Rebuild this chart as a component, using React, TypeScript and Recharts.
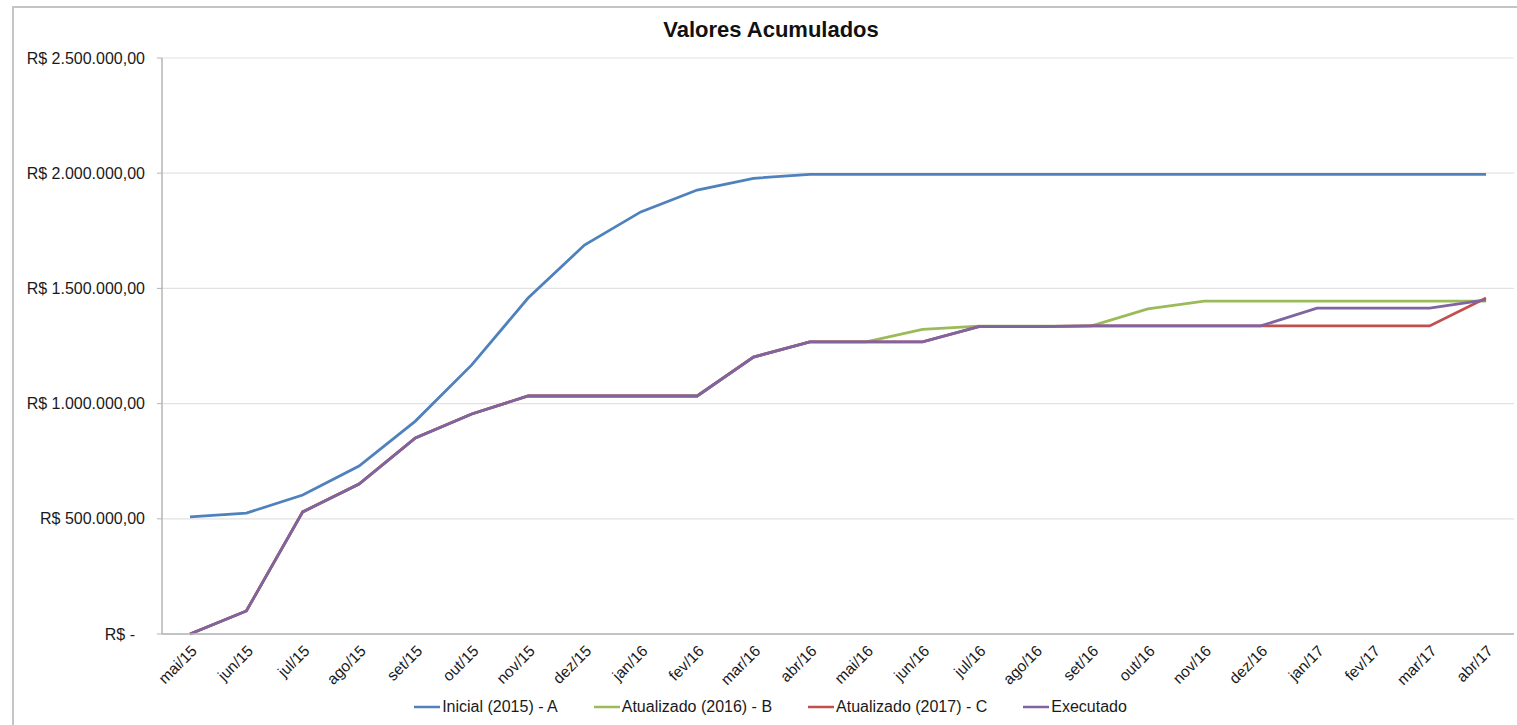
import React from 'react';
import { LineChart, Line, XAxis, YAxis, CartesianGrid, Legend } from 'recharts';

const months = [
  'mai/15', 'jun/15', 'jul/15', 'ago/15', 'set/15', 'out/15', 'nov/15', 'dez/15',
  'jan/16', 'fev/16', 'mar/16', 'abr/16', 'mai/16', 'jun/16', 'jul/16', 'ago/16',
  'set/16', 'out/16', 'nov/16', 'dez/16', 'jan/17', 'fev/17', 'mar/17', 'abr/17',
];

const inicialA = [
  508000, 525000, 603000, 729000, 924000, 1168000, 1458000, 1688000,
  1832000, 1927000, 1978000, 1995000, 1995000, 1995000, 1995000, 1995000,
  1995000, 1995000, 1995000, 1995000, 1995000, 1995000, 1995000, 1995000,
];

const atualizadoB = [
  0, 100000, 530000, 651000, 851000, 955000, 1033000, 1033000,
  1033000, 1033000, 1202000, 1268000, 1268000, 1322000, 1336000, 1336000,
  1337000, 1411000, 1445000, 1445000, 1445000, 1445000, 1445000, 1445000,
];

const atualizadoC = [
  0, 100000, 530000, 651000, 851000, 955000, 1033000, 1033000,
  1033000, 1033000, 1202000, 1268000, 1268000, 1268000, 1334000, 1334000,
  1337000, 1337000, 1337000, 1337000, 1337000, 1337000, 1337000, 1458000,
];

const executado = [
  0, 100000, 530000, 651000, 851000, 955000, 1033000, 1033000,
  1033000, 1033000, 1202000, 1268000, 1268000, 1268000, 1334000, 1334000,
  1337000, 1337000, 1337000, 1337000, 1414000, 1414000, 1414000, 1450000,
];

const yTicks = [0, 500000, 1000000, 1500000, 2000000, 2500000];

const seriesNames = ['Inicial (2015) - A', 'Atualizado (2016) - B', 'Atualizado (2017) - C', 'Executado'];
const seriesColors = ['#4F81BD', '#9BBB59', '#C0504D', '#8064A2'];

const data = months.map((m, i) => ({
  month: m,
  a: inicialA[i],
  b: atualizadoB[i],
  c: atualizadoC[i],
  e: executado[i],
}));

const FONT = "Arial, 'Liberation Sans', sans-serif";

function formatBRL(v: number): string {
  if (v === 0) return 'R$ -';
  const int = Math.floor(v).toString().replace(/\B(?=(\d{3})+(?!\d))/g, '.');
  return `R$ ${int},00`;
}

const YTick = (props: any) => {
  const { x, y, payload } = props;
  const v = payload.value as number;
  return (
    <text
      x={v === 0 ? x - 10 : x}
      y={y}
      dy="0.35em"
      textAnchor="end"
      fontSize={16}
      fontFamily={FONT}
      fill="#1a1a1a"
    >
      {formatBRL(v)}
    </text>
  );
};

const XTick = (props: any) => {
  const { x, y, payload } = props;
  return (
    <g transform={`translate(${x + 4},${y + 14})`}>
      <text
        x={0}
        y={0}
        dy="0.35em"
        textAnchor="end"
        transform="rotate(-45)"
        fontSize={15.5}
        fontFamily={FONT}
        fill="#1a1a1a"
      >
        {payload.value}
      </text>
    </g>
  );
};

const renderLegend = (props: any) => {
  const payload = [...(props.payload || [])].sort(
    (p: any, q: any) => seriesNames.indexOf(p.value) - seriesNames.indexOf(q.value)
  );
  return (
    <div
      style={{
        display: 'flex',
        justifyContent: 'center',
        alignItems: 'center',
        gap: 36,
        height: 20,
        fontFamily: FONT,
        fontSize: 16,
        color: '#1a1a1a',
      }}
    >
      {payload.map((entry: any, i: number) => (
        <div key={i} style={{ display: 'flex', alignItems: 'center' }}>
          <svg width={26} height={4} style={{ marginRight: 2 }}>
            <line x1={0} y1={2} x2={26} y2={2} stroke={entry.color} strokeWidth={2.5} />
          </svg>
          <span>{entry.value}</span>
        </div>
      ))}
    </div>
  );
};

export default function App() {
  return (
    <div
      style={{
        position: 'absolute',
        left: 0,
        top: 0,
        width: 1517,
        height: 725,
        overflow: 'hidden',
        background: '#ffffff',
      }}
    >
      <div
        style={{
          position: 'absolute',
          left: 12,
          top: 6,
          width: 1505,
          height: 760,
          borderTop: '2px solid #c4c4c4',
          borderLeft: '2px solid #c4c4c4',
          boxSizing: 'border-box',
        }}
      />
      <div
        style={{
          position: 'absolute',
          left: 0,
          top: 17,
          width: 1542,
          textAlign: 'center',
          fontFamily: FONT,
          fontWeight: 'bold',
          fontSize: 22,
          lineHeight: '26px',
          color: '#111',
        }}
      >
        Valores Acumulados
      </div>
      <div style={{ position: 'absolute', left: 0, top: 0 }}>
        <LineChart
          width={1517}
          height={725}
          data={data}
          margin={{ top: 58, right: 3, bottom: 8, left: 0 }}
          style={{ fontFamily: FONT }}
        >
          <CartesianGrid vertical={false} stroke="#e2e2e2" strokeWidth={1.2} />
          <XAxis
            dataKey="month"
            interval={0}
            padding={{ left: 28, right: 28 }}
            tick={<XTick />}
            tickLine={false}
            tickSize={0}
            tickMargin={0}
            height={63}
            axisLine={{ stroke: '#b5b5b5', strokeWidth: 1.5 }}
          />
          <YAxis
            width={162}
            domain={[0, 2500000]}
            ticks={yTicks}
            interval={0}
            tick={<YTick />}
            tickSize={5}
            tickMargin={12}
            tickLine={{ stroke: '#b5b5b5' }}
            axisLine={{ stroke: '#b5b5b5', strokeWidth: 1.5 }}
          />
          <Legend
            verticalAlign="bottom"
            content={renderLegend}
            wrapperStyle={{ left: 0, width: 1541, bottom: 8 }}
          />
          <Line type="linear" dataKey="a" name={seriesNames[0]} stroke={seriesColors[0]} strokeWidth={2.8} dot={false} isAnimationActive={false} />
          <Line type="linear" dataKey="b" name={seriesNames[1]} stroke={seriesColors[1]} strokeWidth={2.8} dot={false} isAnimationActive={false} />
          <Line type="linear" dataKey="c" name={seriesNames[2]} stroke={seriesColors[2]} strokeWidth={2.8} dot={false} isAnimationActive={false} />
          <Line type="linear" dataKey="e" name={seriesNames[3]} stroke={seriesColors[3]} strokeWidth={2.8} dot={false} isAnimationActive={false} />
        </LineChart>
      </div>
    </div>
  );
}
